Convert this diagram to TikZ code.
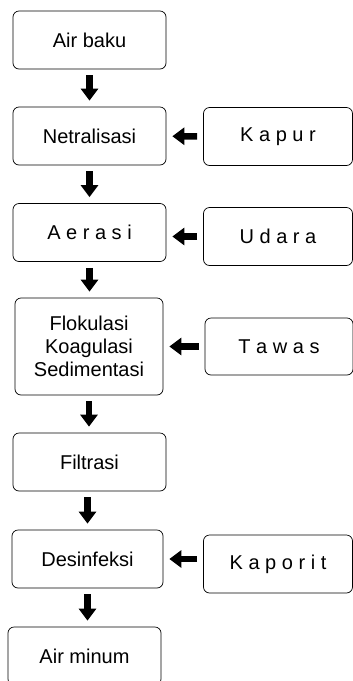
\documentclass[tikz,border=0pt]{standalone}
\usepackage{fontspec}
\setmainfont{Liberation Sans}
\usepackage{tikz}
\usetikzlibrary{arrows.meta}
\tikzset{%
	block/.style    = {draw, line width=0.7pt, rounded corners=6pt, rectangle,
		minimum width = 153pt, minimum height = 58pt, inner sep=0pt,
		align=center, font=\fontsize{20}{23}\selectfont},
	side/.style     = {block, minimum width = 149pt}, % additive box
	flow/.style     = {line width=6.5pt, -{Triangle[width=17pt,length=12pt]},
		shorten <=6pt, shorten >=6pt} % fat arrow
}

\begin{document}
\begin{tikzpicture}[x=1pt,y=-1pt]
                \useasboundingbox (0,0) rectangle (353,681);
                \node[block] (airbaku)    at (89.5,40)    {Air baku} ;
                \node[block] (netral)     at (89.5,136)   {Netralisasi} ;
                \node[block] (aerasi)     at (89.5,232.5) {A e r a s i} ;
                \node[block, minimum width=148pt, minimum height=97pt]
                             (flokulasi)  at (89,346.5)   {Flokulasi\\Koagulasi\\Sedimentasi} ;
                \node[block] (filtrasi)   at (89.5,462)   {Filtrasi} ;
                \node[block, minimum width=151pt] (desinfeksi) at (87.5,559) {Desinfeksi} ;
                \node[block] (airminum)   at (84.5,656)   {Air minum} ;

                \node[side] (kapur)   at (278,136.5) {K a p u r} ;
                \node[side] (udara)   at (278,236.5) {U d a r a} ;
                \node[side, minimum width=148pt, minimum height=57pt]
                            (tawas)   at (279,346.5) {T a w a s} ;
                \node[side] (kaporit) at (278,564)   {K a p o r i t} ;

                \draw[flow] (airbaku)    -- (netral);
                \draw[flow] (netral)     -- (aerasi);
                \draw[flow] (aerasi)     -- (aerasi |- flokulasi.north);
                \draw[flow] (flokulasi)  -- (flokulasi |- filtrasi.north);
                \draw[flow] (filtrasi.south -| desinfeksi) -- (desinfeksi);
                \draw[flow] (desinfeksi) -- (desinfeksi |- airminum.north);

                \draw[flow] (kapur)      -- (netral);
                \draw[flow] (udara.west) -- (udara.west -| aerasi.east);
                \draw[flow] (tawas)      -- (flokulasi);
                \draw[flow] (desinfeksi.east -| kaporit.west) -- (desinfeksi.east);
            \end{tikzpicture}
\end{document}
